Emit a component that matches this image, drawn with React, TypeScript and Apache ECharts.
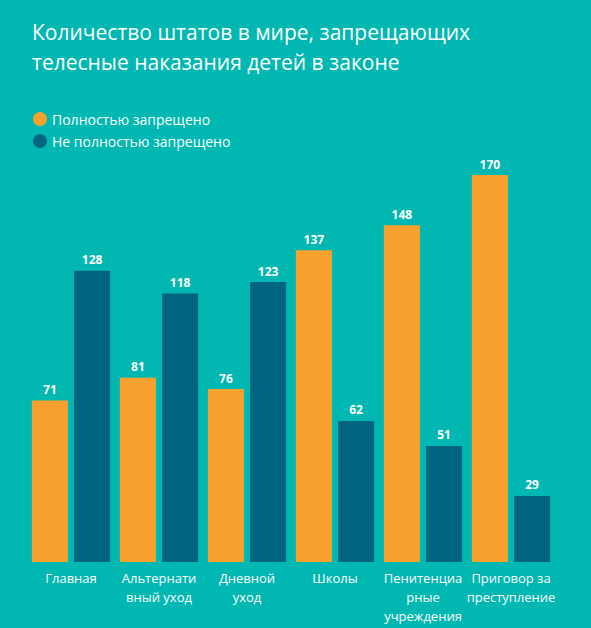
import React, { useEffect, useRef } from 'react';
import * as echarts from 'echarts';

const categories = [
    'Главная',
    'Альтернати\nвный уход',
    'Дневной\nуход',
    'Школы',
    'Пенитенциа\nрные\nучреждения',
    'Приговор за\nпреступление'
];
const fullyBanned = [71, 81, 76, 137, 148, 170];
const notFullyBanned = [128, 118, 123, 62, 51, 29];
const legendNames = ['Полностью запрещено', 'Не полностью запрещено'];

const BG = '#00b7b1';
const ORANGE = '#f8a12f';
const DARK = '#006580';
const FONT = '"Open Sans", "Noto Sans", sans-serif';

const App = () => {
    const chartRef = useRef<HTMLDivElement>(null);

    useEffect(() => {
        if (!chartRef.current) return;
        const myChart = echarts.init(chartRef.current, null, { renderer: 'svg' });

        const label = {
            show: true,
            position: 'top',
            distance: 5,
            color: '#ffffff',
            fontWeight: 'bold',
            fontSize: 12,
            fontFamily: FONT
        };

        myChart.setOption({
            animation: false,
            backgroundColor: BG,
            title: {
                text: 'Количество штатов в мире, запрещающих\nтелесные наказания детей в законе',
                left: 27,
                top: 12,
                textStyle: {
                    color: '#ffffff',
                    fontSize: 21,
                    fontWeight: 'normal',
                    fontFamily: FONT,
                    lineHeight: 30
                }
            },
            legend: {
                data: legendNames,
                orient: 'vertical',
                left: 28,
                top: 107,
                icon: 'circle',
                itemWidth: 14,
                itemHeight: 14,
                itemGap: 8,
                textStyle: {
                    color: '#ffffff',
                    fontSize: 14,
                    fontFamily: FONT
                }
            },
            grid: {
                left: 27,
                right: 36,
                top: 125,
                bottom: 66,
                containLabel: false
            },
            xAxis: {
                type: 'category',
                data: categories,
                axisLine: { show: false },
                axisTick: { show: false },
                axisLabel: {
                    color: '#ffffff',
                    fontSize: 13,
                    fontFamily: FONT,
                    lineHeight: 19,
                    margin: 6,
                    interval: 0
                }
            },
            yAxis: {
                type: 'value',
                min: 0,
                max: 192,
                show: false,
                splitLine: { show: false }
            },
            series: [
                {
                    name: legendNames[0],
                    type: 'bar',
                    data: fullyBanned,
                    itemStyle: { color: ORANGE },
                    barGap: '17%',
                    barCategoryGap: '11%',
                    label
                },
                {
                    name: legendNames[1],
                    type: 'bar',
                    data: notFullyBanned,
                    itemStyle: { color: DARK },
                    label
                }
            ]
        });

        return () => {
            myChart.dispose();
        };
    }, []);

    return (
        <div style={{ position: 'absolute', left: 0, top: 0 }}>
            <div ref={chartRef} style={{ width: '591px', height: '628px' }} />
        </div>
    );
};

export default App;
